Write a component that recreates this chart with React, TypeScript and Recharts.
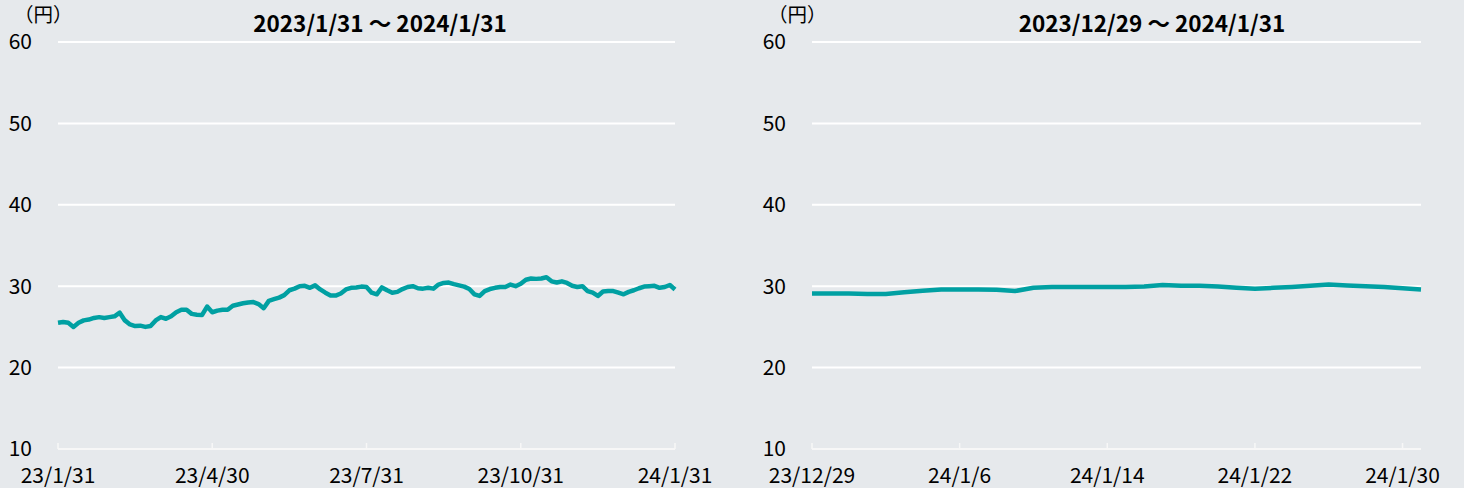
import { LineChart, Line, XAxis, YAxis, CartesianGrid } from "recharts";

/* ── 1年チャート（2023/1/31〜2024/1/31） ─────────────── */
const yearTickLabels = ["23/1/31", "23/4/30", "23/7/31", "23/10/31", "24/1/31"];
const yearPrices = [
  25.5, 25.6, 25.5, 25.0, 25.5, 25.8, 25.9, 26.1, 26.2, 26.1,
  26.2, 26.3, 26.75, 25.8, 25.3, 25.1, 25.15, 25.0, 25.1, 25.8,
  26.2, 26.0, 26.3, 26.8, 27.1, 27.1, 26.6, 26.5, 26.45, 27.5,
  26.8, 27.0, 27.1, 27.1, 27.6, 27.75, 27.9, 28.0, 28.05, 27.8,
  27.3, 28.2, 28.4, 28.6, 28.9, 29.5, 29.7, 30.0, 30.05, 29.8,
  30.1, 29.6, 29.2, 28.85, 28.85, 29.1, 29.6, 29.8, 29.85, 29.95,
  29.9, 29.2, 29.0, 29.85, 29.5, 29.2, 29.3, 29.65, 29.9, 30.0,
  29.75, 29.7, 29.8, 29.7, 30.2, 30.4, 30.45, 30.25, 30.1, 29.95,
  29.65, 29.0, 28.8, 29.4, 29.65, 29.8, 29.9, 29.9, 30.2, 30.0,
  30.3, 30.8, 30.95, 30.9, 30.95, 31.1, 30.6, 30.45, 30.6, 30.4,
  30.05, 29.9, 30.0, 29.4, 29.2, 28.8, 29.35, 29.4, 29.4, 29.2,
  29.0, 29.3, 29.5, 29.75, 29.95, 30.0, 30.05, 29.8, 29.9, 30.15,
  29.6,
];

/* ── 1ヶ月チャート（2023/12/29〜2024/1/31、日次） ─────── */
const monthTickLabels = ["23/12/29", "24/1/6", "24/1/14", "24/1/22", "24/1/30"];
const monthPrices = [
  29.1, 29.1, 29.1, 29.05, 29.05, 29.25, 29.45, 29.6, 29.6, 29.6,
  29.55, 29.4, 29.8, 29.9, 29.9, 29.9, 29.9, 29.9, 29.95, 30.15,
  30.05, 30.05, 29.95, 29.8, 29.7, 29.8, 29.9, 30.05, 30.2, 30.1,
  30.0, 29.9, 29.75, 29.6,
];

const yTicks = [10, 20, 30, 40, 50, 60];

const yearData = yearPrices.map((price, i) => ({ i, price }));
const monthData = monthPrices.map((price, i) => ({ i, price }));

const BG = "#e6e9ec";
const TEAL = "#00a0a2";
const FONT = "'Noto Sans CJK JP', 'Noto Sans CJK SC', sans-serif";

function PriceChart({ data, maxIndex, tickStep, labels, width }) {
  const xTicks = labels.map((_, k) => k * tickStep);
  return (
    <LineChart width={width + 46} height={488} data={data} margin={{ top: 42, right: 46, bottom: 0, left: 0 }}>
      <CartesianGrid vertical={false} stroke="#ffffff" strokeWidth={2} />
      <XAxis
        dataKey="i"
        type="number"
        domain={[0, maxIndex]}
        ticks={xTicks}
        tickFormatter={(v) => labels[Math.round(v / tickStep)]}
        height={39}
        axisLine={{ stroke: "#f7f7f7", strokeWidth: 2 }}
        tickLine={{ stroke: "#f7f7f7", strokeWidth: 1.5 }}
        tickSize={-6}
        tickMargin={25}
        tick={{ fill: "#000", fontSize: 21 }}
      />
      <YAxis
        domain={[10, 60]}
        ticks={yTicks}
        width={58}
        axisLine={false}
        tickLine={false}
        tickMargin={20}
        tick={{ fill: "#000", fontSize: 21 }}
      />
      <Line
        type="linear"
        dataKey="price"
        stroke={TEAL}
        strokeWidth={4.5}
        strokeLinejoin="round"
        dot={false}
        isAnimationActive={false}
      />
    </LineChart>
  );
}

export default function App() {
  const abs = (left, top) => ({ position: "absolute" as const, left, top });
  const titleStyle = { width: 400, textAlign: "center" as const, fontSize: 22.5, fontWeight: 700, lineHeight: "32px" };
  const unitStyle = { fontSize: 19.5, lineHeight: "22px" };
  return (
    <div
      style={{
        position: "relative",
        width: 1464,
        height: 488,
        background: BG,
        fontFamily: FONT,
        color: "#000",
        overflow: "hidden",
      }}
    >
      <style>{`body{margin:0;background:${BG}} .recharts-surface{overflow:visible}`}</style>
      <div style={abs(0, 0)}>
        <PriceChart data={yearData} maxIndex={120} tickStep={30} labels={yearTickLabels} width={675} />
      </div>
      <div style={abs(754, 0)}>
        <PriceChart data={monthData} maxIndex={33} tickStep={8} labels={monthTickLabels} width={667} />
      </div>

      {/* 単位・タイトル */}
      <div style={{ ...abs(14, 3), ...unitStyle }}>（円）</div>
      <div style={{ ...abs(768, 3), ...unitStyle }}>（円）</div>
      <div style={{ ...abs(180, 6), ...titleStyle }}>2023/1/31 ～ 2024/1/31</div>
      <div style={{ ...abs(952, 6), ...titleStyle }}>2023/12/29 ～ 2024/1/31</div>
    </div>
  );
}
